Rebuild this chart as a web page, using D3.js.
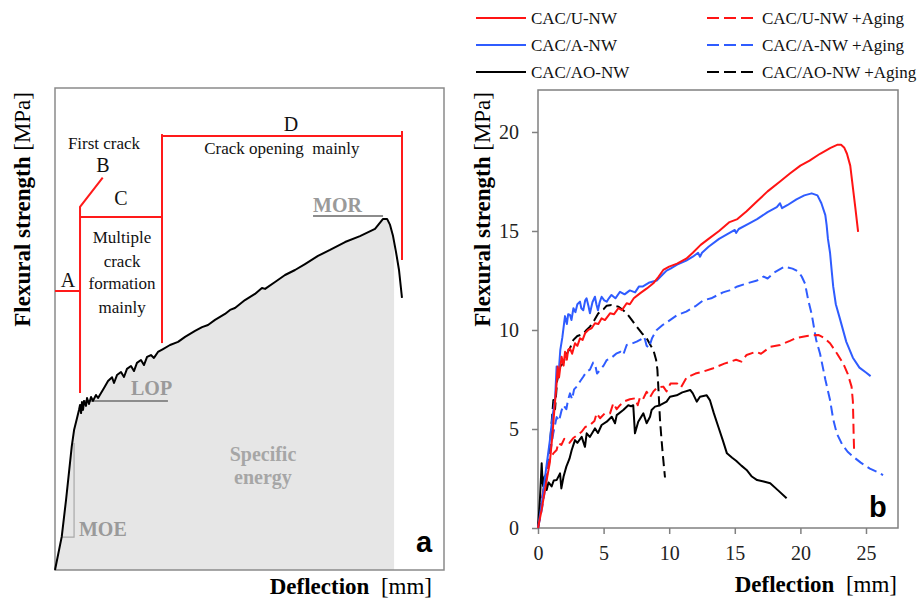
<!DOCTYPE html>
<html>
<head>
<meta charset="utf-8">
<script src="https://cdn.jsdelivr.net/npm/d3@7"></script>
<style>
  html, body { margin: 0; padding: 0; background: #fff; }
  svg { display: block; }
</style>
</head>
<body>
<svg id="chart" width="921" height="600" font-family='"Liberation Serif", "Times New Roman", serif'></svg>
<script>
// ---------- Panel a: schematic load–deflection curve ----------
const schematicCurve = [
  [0,0],[0.52,1.73],[0.85,3.63],[1.29,6.40],[1.47,7.26],[1.70,7.88],[1.85,8.30],[1.93,8.56],
  [2.01,8.14],[2.08,8.71],[2.16,8.30],[2.24,8.76],[2.39,8.51],[2.47,8.92],[2.62,8.61],[2.78,8.97],
  [2.93,8.77],[3.16,9.08],[3.32,8.92],[3.55,9.18],[3.78,9.44],[4.09,9.80],[4.40,10.0],[4.55,9.70],
  [4.78,10.11],[5.09,10.27],[5.32,10.01],[5.55,10.43],[5.86,10.58],[6.09,10.32],[6.32,10.74],
  [6.63,10.89],[6.86,10.63],[7.10,11.05],[7.40,11.15],[7.63,11.0],[7.94,11.31],[8.33,11.46],
  [8.87,11.67],[9.49,11.83],[10.03,12.09],[10.80,12.40],[11.34,12.60],[11.80,12.71],[12.34,12.97],
  [13.11,13.28],[13.50,13.49],[13.88,13.59],[14.65,14.0],[15.42,14.32],[15.96,14.63],[16.2,14.58],
  [16.97,14.94],[17.74,15.30],[18.51,15.56],[19.28,15.87],[20.28,16.29],[21.21,16.60],[22.37,17.01],
  [23.52,17.32],[24.68,17.69],[25.30,18.21],[25.61,18.21],[25.84,17.90],[26.07,17.32],[26.30,16.49],
  [26.53,15.56],[26.76,14.11]
];
const energyCutoff = 26.15;   // end of the shaded specific-energy area

// ---------- Panel b: measured curves ----------
const deflectionTicks = [0, 5, 10, 15, 20, 25];
const strengthTicks = [0, 5, 10, 15, 20];
const seriesNames = ["CAC/U-NW", "CAC/A-NW", "CAC/AO-NW",
                     "CAC/U-NW +Aging", "CAC/A-NW +Aging", "CAC/AO-NW +Aging"];

const uNW = [[0,0],[0.3,1.0],[0.6,2.2],[0.9,3.3],[1.1,4.7],[1.25,6.0],[1.42,7.3],[1.5,8.15],[1.6,7.6],
  [1.8,8.65],[1.95,8.2],[2.06,8.9],[2.2,8.5],[2.3,9.0],[2.44,9.07],[2.6,8.8],[2.82,9.33],[3.0,9.2],
  [3.2,9.58],[3.4,9.5],[3.6,9.85],[3.83,10.0],[4.1,10.1],[4.34,10.34],[4.6,10.3],[4.85,10.59],[5.1,10.5],
  [5.49,10.84],[5.8,10.8],[6.12,11.1],[6.4,11.0],[6.76,11.35],[7.0,11.3],[7.3,11.6],[7.77,11.85],
  [8.3,12.1],[8.79,12.36],[9.2,12.7],[9.55,13.03],[10.0,13.2],[10.6,13.35],[11.3,13.6],[11.8,13.9],
  [12.4,14.3],[13.0,14.6],[13.8,15.0],[14.6,15.45],[15.2,15.6],[15.9,16.0],[16.7,16.5],[17.5,17.0],
  [18.45,17.5],[19.2,17.9],[20.0,18.3],[20.7,18.55],[21.5,18.9],[22.3,19.2],[22.8,19.35],[23.1,19.35],
  [23.35,19.2],[23.55,18.9],[23.8,18.3],[24.0,17.2],[24.2,16.1],[24.4,14.96]];

const aNW = [[0,0],[0.3,1.3],[0.6,2.9],[0.9,4.4],[1.1,5.6],[1.3,6.5],[1.42,8.15],[1.55,7.6],[1.7,9.0],
  [1.85,9.6],[2.0,10.4],[2.06,10.7],[2.2,10.3],[2.3,10.8],[2.44,10.76],[2.55,10.5],[2.7,11.1],[2.85,10.9],
  [3.0,11.3],[3.2,11.43],[3.3,11.1],[3.45,11.0],[3.6,11.5],[3.7,11.6],[3.85,11.2],[3.96,10.84],[4.15,11.4],
  [4.34,11.68],[4.45,11.3],[4.57,11.0],[4.7,11.4],[4.85,11.68],[5.05,11.5],[5.24,11.43],[5.4,11.6],
  [5.6,11.77],[5.9,11.6],[6.25,11.93],[6.6,11.8],[7.0,12.0],[7.4,11.9],[7.7,12.2],[8.0,12.2],[8.5,12.4],
  [9.05,12.5],[9.5,12.8],[9.8,13.0],[10.1,13.1],[10.6,13.3],[11.3,13.5],[11.8,13.7],[12.2,13.9],
  [12.35,13.7],[12.5,13.9],[13.0,14.2],[13.8,14.6],[14.6,14.9],[15.0,15.05],[15.1,14.9],[15.3,15.1],
  [16.0,15.35],[16.7,15.6],[17.5,15.95],[18.2,16.2],[18.45,16.4],[18.6,16.15],[19.0,16.3],[19.7,16.6],
  [20.3,16.8],[20.86,16.9],[21.3,16.8],[21.6,16.4],[21.9,15.8],[22.0,15.3],[22.1,14.6],[22.26,13.9],
  [22.4,12.9],[22.5,12.2],[22.7,11.3],[23.0,10.6],[23.5,9.4],[24.0,8.6],[24.5,8.1],[25.0,7.85],[25.35,7.67]];

const aoNW = [[0,0],[0.15,1.5],[0.28,3.27],[0.35,2.3],[0.4,2.1],[0.5,2.6],[0.66,1.92],[0.8,2.3],
  [1.04,2.1],[1.2,2.4],[1.42,2.42],[1.68,2.76],[1.78,2.0],[1.95,2.6],[2.16,3.1],[2.4,3.5],[2.57,3.94],
  [2.82,4.44],[3.0,4.3],[3.33,4.6],[3.58,4.1],[3.71,4.78],[3.95,4.6],[4.34,5.03],[4.57,4.8],[4.85,5.2],
  [5.24,5.37],[5.62,5.62],[5.87,5.29],[6.0,5.7],[6.5,5.96],[6.88,6.2],[7.1,6.15],[7.26,6.2],[7.39,4.78],
  [7.64,5.37],[8.03,5.79],[8.28,5.29],[8.54,5.62],[8.66,5.96],[8.92,6.13],[9.3,6.2],[9.8,6.38],
  [10.06,6.63],[10.57,6.7],[11.0,6.85],[11.6,6.97],[11.8,6.8],[12.1,6.38],[12.35,6.63],[12.86,6.7],
  [13.1,6.46],[13.4,5.8],[13.75,5.1],[14.1,4.4],[14.4,3.77],[14.8,3.55],[15.1,3.4],[15.5,3.15],
  [15.9,2.93],[16.3,2.6],[16.7,2.42],[17.2,2.35],[17.7,2.26],[18.3,1.9],[18.95,1.5]];

const uNWAged = [[0,0],[0.28,1.4],[0.5,2.3],[0.66,2.93],[0.9,3.43],[1.17,3.77],[1.42,3.94],[1.55,4.3],
  [1.78,4.19],[2.0,4.5],[2.16,4.44],[2.4,4.3],[2.67,4.53],[3.0,4.7],[3.33,4.86],[3.6,5.1],[3.96,5.2],
  [4.3,5.4],[4.47,5.79],[4.73,5.54],[5.1,5.8],[5.49,5.79],[5.74,6.3],[6.0,6.0],[6.25,6.2],[6.6,6.4],
  [7.0,6.5],[7.4,6.55],[7.6,6.2],[7.77,6.6],[8.0,6.5],[8.28,6.88],[8.54,6.6],[8.8,6.9],[9.1,7.1],
  [9.55,7.14],[9.8,6.9],[10.1,7.3],[10.6,7.3],[10.9,7.1],[11.33,7.6],[12.0,7.8],[12.6,7.9],[13.36,8.07],
  [14.2,8.3],[15.1,8.5],[15.5,8.4],[15.9,8.74],[16.6,8.9],[17.0,8.8],[17.7,9.15],[18.45,9.24],[19.2,9.45],
  [19.7,9.6],[20.5,9.7],[21.37,9.75],[21.8,9.6],[22.26,9.33],[22.8,8.8],[23.27,8.3],[23.6,7.8],
  [23.9,7.14],[24.0,6.4],[24.03,5.62],[24.06,4.7],[24.1,3.77]];

const aNWAged = [[0,0],[0.28,0.9],[0.53,1.9],[0.78,3.1],[1.0,4.1],[1.17,4.8],[1.42,5.6],[1.6,5.4],
  [1.78,5.9],[1.93,6.2],[2.16,6.0],[2.3,6.5],[2.44,6.8],[2.6,6.5],[2.75,7.0],[2.95,7.14],[3.2,7.4],
  [3.45,7.64],[3.7,7.9],[3.96,8.0],[4.2,8.35],[4.34,8.3],[4.5,7.8],[4.73,7.98],[5.0,8.2],[5.24,8.48],
  [5.6,8.6],[6.0,8.82],[6.3,8.9],[6.5,8.75],[6.76,9.24],[7.1,9.3],[7.52,9.41],[7.9,9.55],[8.1,9.66],
  [8.28,9.2],[8.45,9.1],[8.7,9.6],[9.05,10.0],[9.5,10.25],[10.06,10.5],[10.6,10.75],[11.3,10.93],
  [12.0,11.2],[12.6,11.5],[13.2,11.6],[14.1,11.9],[14.6,12.0],[15.2,12.2],[15.9,12.35],[16.7,12.5],
  [17.2,12.7],[17.5,12.6],[18.0,12.9],[18.8,13.2],[19.4,13.1],[19.84,12.95],[20.1,12.7],[20.35,12.35],
  [20.6,11.5],[20.86,10.8],[21.2,9.5],[21.5,8.8],[21.9,7.5],[22.26,6.46],[22.5,5.5],[22.77,4.78],
  [23.2,4.2],[23.6,3.85],[24.03,3.6],[24.6,3.3],[25.3,3.0],[25.8,2.85],[26.3,2.67]];

const aoNWAged = [[0,0],[0.3,1.3],[0.6,2.7],[0.9,4.1],[1.17,6.46],[1.3,6.0],[1.45,7.4],[1.68,8.15],
  [1.9,8.3],[2.2,8.8],[2.45,9.1],[2.7,9.5],[3.0,9.7],[3.45,9.8],[3.7,10.0],[3.96,10.17],[4.3,10.5],
  [4.6,10.84],[5.0,11.05],[5.24,11.23],[5.6,11.26],[6.12,11.18],[6.4,11.05],[6.76,10.84],[7.1,10.55],
  [7.52,10.17],[7.9,9.85],[8.28,9.58],[8.6,9.2],[8.79,9.0],[9.0,8.5],[9.1,8.0],[9.17,7.14],[9.3,5.45],
  [9.4,4.6],[9.5,3.8],[9.6,3.1],[9.68,2.55]];

const seriesValues = [uNW, aNW, aoNW, uNWAged, aNWAged, aoNWAged];

// line styles per series
const seriesStyle = [
  { color: "#ff1414", dash: null },
  { color: "#2f5cff", dash: null },
  { color: "#000000", dash: null },
  { color: "#ff1414", dash: "10,5" },
  { color: "#2f5cff", dash: "10,5" },
  { color: "#000000", dash: "10,5" }
];

const svg = d3.select("#chart");
const serif = '"Liberation Serif", "Times New Roman", serif';
const sans = '"Liberation Sans", Arial, sans-serif';

// =================== Panel a ===================
const xa = d3.scaleLinear([0, 30], [55, 444]);
const ya = d3.scaleLinear([0, 25], [570, 88]);
const gA = svg.append("g");

// shaded area under the curve up to the cutoff
const cutIdx = schematicCurve.findIndex(p => p[0] > energyCutoff);
const p0 = schematicCurve[cutIdx - 1], p1 = schematicCurve[cutIdx];
const yCut = p0[1] + (p1[1] - p0[1]) * (energyCutoff - p0[0]) / (p1[0] - p0[0]);
const energyArea = schematicCurve.slice(0, cutIdx).concat([[energyCutoff, yCut]]);
gA.append("path")
  .datum(energyArea)
  .attr("fill", "#e6e6e6")
  .attr("d", d3.area().x(d => xa(d[0])).y0(ya(0)).y1(d => ya(d[1])));

// frame
gA.append("rect")
  .attr("x", xa(0)).attr("y", ya(25))
  .attr("width", xa(30) - xa(0)).attr("height", ya(0) - ya(25))
  .attr("fill", "none").attr("stroke", "#8a8a8a").attr("stroke-width", 1.5);

// gray helper lines (MOE slope, LOP, MOR)
const grayLines = [
  [[0.54, 1.71], [1.47, 1.71], [1.47, 6.59]],
  [[2.16, 8.77], [8.71, 8.77]],
  [[19.9, 18.36], [25.3, 18.36]]
];
const lineA = d3.line().x(d => xa(d[0])).y(d => ya(d[1]));
gA.selectAll(".gl").data(grayLines).join("path")
  .attr("d", lineA).attr("fill", "none")
  .attr("stroke", d => d.length === 3 ? "#a8a8a8" : "#8c8c8c")
  .attr("stroke-width", d => d.length === 3 ? 1.2 : 2);

// red stage annotations
const redLines = [
  [[0, 14.47], [1.93, 14.47]],
  [[1.93, 9.18], [1.93, 18.83], [3.68, 20.35]],
  [[1.93, 18.31], [8.25, 18.31]],
  [[8.25, 11.77], [8.25, 22.61]],
  [[8.25, 22.51], [26.76, 22.51]],
  [[26.76, 22.77], [26.76, 16.08]]
];
gA.selectAll(".rl").data(redLines).join("path")
  .attr("d", lineA).attr("fill", "none")
  .attr("stroke", "#ff1a1a").attr("stroke-width", 2);

// curve
gA.append("path").datum(schematicCurve)
  .attr("d", lineA).attr("fill", "none")
  .attr("stroke", "#000").attr("stroke-width", 2).attr("stroke-linejoin", "round");

// annotation text
function labelA(txt, x, y, opts) {
  return gA.append("text")
    .attr("x", xa(x)).attr("y", ya(y))
    .attr("text-anchor", opts.anchor || "middle")
    .attr("font-family", opts.family || serif)
    .attr("font-size", opts.size || 17)
    .attr("font-weight", opts.weight || "normal")
    .attr("fill", opts.fill || "#111")
    .text(txt);
}
labelA("First crack", 3.78, 21.84, {});
labelA("B", 3.70, 20.64, { size: 20 });
labelA("C", 5.09, 18.94, { size: 20 });
labelA("A", 1.0, 14.68, { size: 20 });
labelA("D", 18.2, 22.77, { size: 20 });
labelA("Crack opening  mainly", 17.5, 21.58, {}).attr("xml:space", "preserve");
labelA("Multiple", 5.17, 16.96, {});
labelA("crack", 5.17, 15.72, {});
labelA("formation", 5.17, 14.58, {});
labelA("mainly", 5.17, 13.33, {});
labelA("MOR", 19.9, 18.57, { anchor: "start", size: 20, weight: "bold", fill: "#9a9a9a" });
labelA("LOP", 5.86, 9.08, { anchor: "start", size: 20, weight: "bold", fill: "#9a9a9a" });
labelA("MOE", 1.85, 1.76, { anchor: "start", size: 20, weight: "bold", fill: "#9a9a9a" });
labelA("Specific", 16.04, 5.65, { size: 20, weight: "bold", fill: "#a6a6a6" });
labelA("energy", 16.04, 4.46, { size: 20, weight: "bold", fill: "#a6a6a6" });
labelA("a", 27.84, 0.93, { anchor: "start", size: 29, weight: "bold", family: sans, fill: "#000" });

// axis titles (shared helper)
function axisTitles(g, xEnd, xBase, yBase, yTop) {
  const xt = g.append("text").attr("x", xEnd).attr("y", xBase)
    .attr("text-anchor", "end").attr("font-size", 23).attr("fill", "#000")
    .attr("xml:space", "preserve");
  xt.append("tspan").attr("font-weight", "bold").text("Deflection");
  xt.append("tspan").text("  [mm]");
  const yt = g.append("text")
    .attr("transform", `translate(${yBase},${yTop}) rotate(-90)`)
    .attr("text-anchor", "end").attr("font-size", 23).attr("fill", "#000")
    .attr("xml:space", "preserve");
  yt.append("tspan").attr("font-weight", "bold").text("Flexural strength");
  yt.append("tspan").text(" [MPa]");
}
axisTitles(gA, 432, 594, 30, 92);

// =================== Panel b ===================
const xb = d3.scaleLinear([0, 27.44], [538, 898]);
const yb = d3.scaleLinear([0, 22.12], [528, 90]);
const gB = svg.append("g");

gB.append("rect")
  .attr("x", xb(0)).attr("y", yb(22.12))
  .attr("width", xb(27.44) - xb(0)).attr("height", yb(0) - yb(22.12))
  .attr("fill", "none").attr("stroke", "#808080").attr("stroke-width", 1.5);

const xAxis = gB.append("g").attr("transform", `translate(0,${yb(0)})`)
  .call(d3.axisBottom(xb).tickValues(deflectionTicks).tickSize(6).tickPadding(12));
const yAxis = gB.append("g").attr("transform", `translate(${xb(0)},0)`)
  .call(d3.axisLeft(yb).tickValues(strengthTicks).tickSize(6).tickPadding(13));
[xAxis, yAxis].forEach(ax => {
  ax.attr("font-family", serif);
  ax.select(".domain").remove();
  ax.selectAll(".tick line").attr("stroke", "#808080").attr("stroke-width", 1.5);
  ax.selectAll(".tick text").attr("font-size", 20).attr("fill", "#222");
});

const lineB = d3.line().x(d => xb(d[0])).y(d => yb(d[1]));
const drawOrder = [5, 4, 3, 2, 1, 0];
gB.selectAll(".series").data(drawOrder).join("path")
  .attr("d", i => lineB(seriesValues[i]))
  .attr("fill", "none")
  .attr("stroke", i => seriesStyle[i].color)
  .attr("stroke-dasharray", i => seriesStyle[i].dash)
  .attr("stroke-width", 2)
  .attr("stroke-linejoin", "round");

gB.append("text").attr("x", 869).attr("y", 517)
  .attr("font-family", sans).attr("font-size", 29).attr("font-weight", "bold")
  .attr("fill", "#000").text("b");

axisTitles(gB, 897, 592, 490, 92);

// legend: two columns x three rows
const legend = svg.append("g");
seriesNames.forEach((name, i) => {
  const col = Math.floor(i / 3), row = i % 3;
  const x0 = col === 0 ? 476 : 707;
  const ly = 18 + row * 27;
  legend.append("line")
    .attr("x1", x0).attr("x2", x0 + 50).attr("y1", ly).attr("y2", ly)
    .attr("stroke", seriesStyle[i].color).attr("stroke-width", 2)
    .attr("stroke-dasharray", seriesStyle[i].dash ? "12,5" : null);
  legend.append("text")
    .attr("x", x0 + 55).attr("y", ly).attr("dy", "0.33em")
    .attr("font-size", 17).attr("fill", "#111").text(name);
});
</script>
</body>
</html>
